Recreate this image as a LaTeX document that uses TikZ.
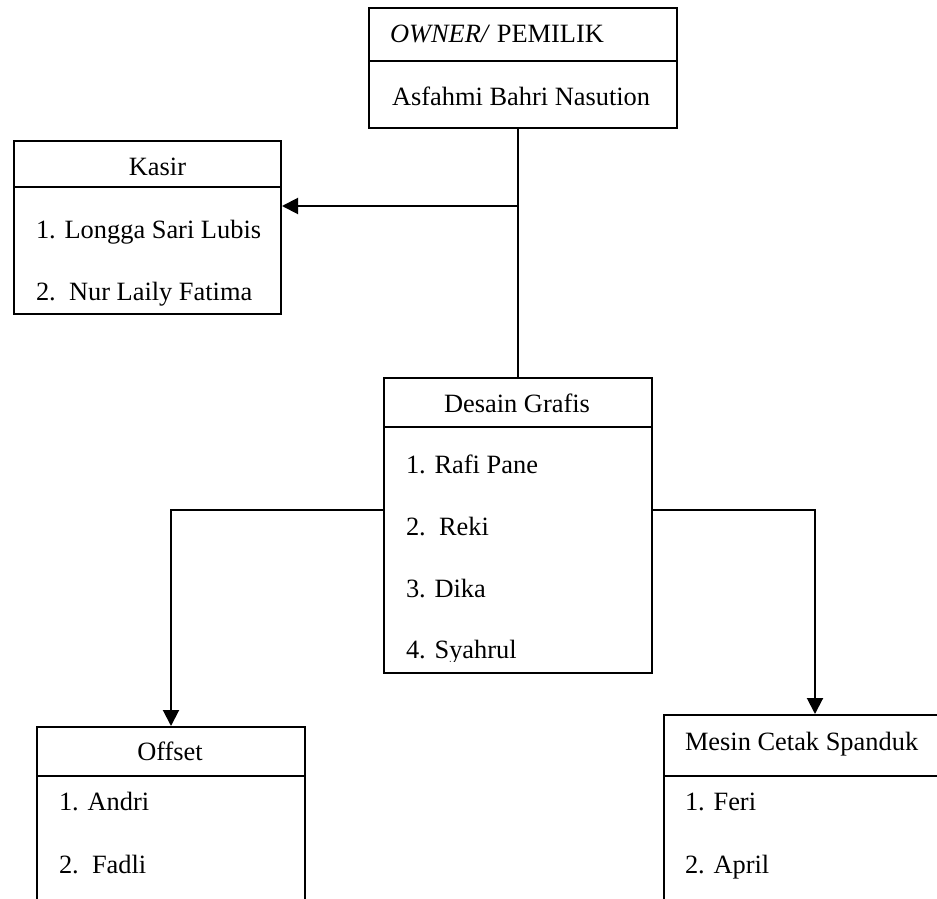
\documentclass[tikz,border=0pt]{standalone}
\usepackage{fontspec}
\setmainfont{Liberation Serif}
\usetikzlibrary{arrows.meta}
\begin{document}
\begin{tikzpicture}[x=1pt,y=-1pt,line width=2pt,
  box/.style={draw,line width=2pt,rectangle,inner sep=0pt,anchor=north west},
  txt/.style={anchor=base west,inner sep=0pt,font=\fontsize{26.4}{30}\selectfont},
  ctxt/.style={anchor=base,inner sep=0pt,font=\fontsize{26.4}{30}\selectfont},
  arr/.style={-{Triangle[length=16pt,width=16pt]},line width=2pt}]
\useasboundingbox (0,0) rectangle (937,899);
% boxes
\node[box,minimum width=308pt,minimum height=120pt] (owner) at (368,7) {};
\node[box,minimum width=267pt,minimum height=173pt] (kasir) at (13,140) {};
\node[box,minimum width=268pt,minimum height=295pt] (desain) at (383,377) {};
\node[box,minimum width=268pt,minimum height=250pt] (offset) at (36,726) {};
\node[box,minimum width=302pt,minimum height=250pt] (mesin) at (663,714) {};
% header dividers
\draw ([yshift=-54pt]owner.north west) -- ([yshift=-54pt]owner.north east);
\draw ([yshift=-47pt]kasir.north west) -- ([yshift=-47pt]kasir.north east);
\draw ([yshift=-50pt]desain.north west) -- ([yshift=-50pt]desain.north east);
\draw ([yshift=-50pt]offset.north west) -- ([yshift=-50pt]offset.north east);
\draw ([yshift=-62pt]mesin.north west) -- ([yshift=-62pt]mesin.north east);
% texts
\node[txt] (ownerh) at (389,43) {\textit{OWNER/} PEMILIK};
\node[txt] (ownern) at (391,105) {Asfahmi Bahri Nasution};
\node[ctxt] (kasirh) at (157.5,175) {Kasir};
\node[txt] (kasir1) at (35,238) {1. Longga Sari Lubis};
\node[txt] (kasir2) at (35,300) {2.\ \ Nur Laily Fatima};
\node[ctxt] (desainh) at (517,412) {Desain Grafis};
\node[txt] (desain1) at (405,473) {1. Rafi Pane};
\node[txt] (desain2) at (405,535) {2.\ \ Reki};
\node[txt] (desain3) at (405,597) {3. Dika};
\begin{scope}
\clip (383,620) rectangle (651,661);
\node[txt] (desain4) at (405,658) {4. Syahrul};
\end{scope}
\node[ctxt] (offseth) at (170,760) {Offset};
\node[txt] (offset1) at (58,810) {1. Andri};
\node[txt] (offset2) at (58,873) {2.\ \ Fadli};
\node[txt] (mesinh) at (684,750) {Mesin Cetak Spanduk};
\node[txt] (mesin1) at (684,810) {1. Feri};
\node[txt] (mesin2) at (684,873) {2. April};
% connectors
\coordinate (j1) at (517,206);
\coordinate (bl) at (383,510);
\coordinate (br) at (651,510);
\draw (desain.north |- owner.south) -- (desain.north);
\draw[arr] (j1) -- (j1 -| kasir.east);
\draw[arr] (bl) -| (offset.north);
\draw[arr] (br) -| (mesin.north);
\end{tikzpicture}
\end{document}
